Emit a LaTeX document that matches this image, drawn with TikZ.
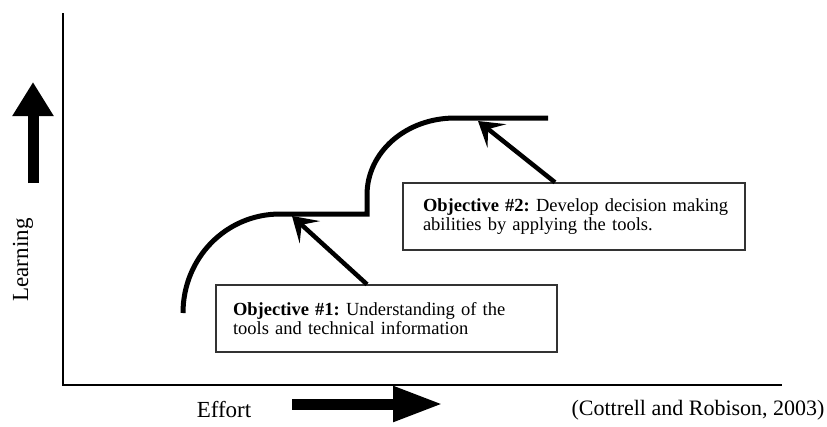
\documentclass[tikz,border=0pt]{standalone}
\usepackage{fontspec}
\setmainfont{Liberation Serif}
\usetikzlibrary{arrows.meta,calc}
\begin{document}
\begin{tikzpicture}[x=1pt,y=-1pt,
  axisline/.style={line width=2pt,black},
  curveline/.style={line width=5pt,black},
  pointer/.style={line width=4.5pt,black,-{Stealth[length=24pt,width=30pt,inset=11pt]}},
  objbox/.style={draw=black!80,line width=1.3pt,fill=white,align=left,
    font=\fontsize{18.5}{19.3}\selectfont\frenchspacing,minimum height=67pt,inner ysep=0pt},
  axislabel/.style={font=\fontsize{23}{26}\selectfont,inner sep=0pt}
]
\useasboundingbox (0,0) rectangle (827,426);
% axes
\coordinate (ytop) at (63,13);
\coordinate (origin) at (63,385);
\coordinate (xend) at (782,385);
\draw[axisline] (ytop) -- (origin) -- (xend);
% big arrows
\coordinate (upS) at (33,183);
\coordinate (upE) at (33,82);
\draw[line width=11pt,-{Triangle[length=34pt,width=39pt]}] (upS) -- (upE);
\coordinate (rtS) at (292,404);
\coordinate (rtE) at (443,404);
\draw[line width=11pt,-{Triangle[length=50pt,width=33pt]}] (rtS) -- (rtE);
% labels
\node[axislabel,rotate=90] (learn) at (23,260) {Learning};
\node[axislabel] (effort) at (224,410) {Effort};
\node[axislabel,font=\fontsize{22}{24}\selectfont] (cite) at (698,410) {(Cottrell and Robison, 2003)};
% learning curve
\draw[curveline] (183,313) .. controls (183,258) and (226,214) .. (280,214)
  -- (367,214) -- (367,195) .. controls (367,152) and (406,118) .. (455,118) -- (548,118);
% boxes
\node[objbox,text width=307pt,inner xsep=17pt] (b1) at (386.5,318.5)
  {\mbox{\textbf{Objective \#1:} Understanding of the}\\\mbox{tools and technical information}};
\node[objbox,text width=302pt,inner xsep=20pt] (b2) at (574,216.5)
  {\mbox{\textbf{Objective \#2:} Develop decision making}\\\mbox{abilities by applying the tools.}};
% pointers
\coordinate (t1) at (292,216);
\coordinate (t2) at (478,121);
\draw[pointer] ([xshift=-19.5pt]b1.north) -- (t1);
\draw[pointer] ([xshift=-19pt]b2.north) -- (t2);
\end{tikzpicture}
\end{document}
